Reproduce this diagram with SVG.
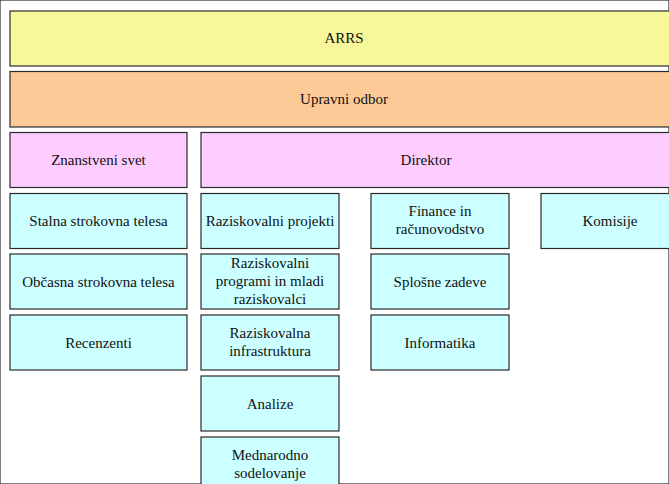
<svg xmlns="http://www.w3.org/2000/svg" width="669" height="484" viewBox="0 0 669 484">
<style>
rect{stroke:#2a2a2a;stroke-width:1.2}
.y{fill:#F8F89A}.o{fill:#FCCA96}.p{fill:#FFCCFF}.c{fill:#CCFFFF}
text{font-size:15px;fill:#111;text-anchor:middle}
</style>
<rect width="669" height="484" fill="#fff" stroke="none"/>
<g font-family="'Liberation Serif', 'DejaVu Serif', serif">
<g id="arrs"><rect class="y" x="10" y="11" width="670" height="55"/><text x="344" y="43">ARRS</text></g>
<g id="upravni"><rect class="o" x="10" y="71.5" width="670" height="55.5"/><text x="344" y="104">Upravni odbor</text></g>
<g id="znanstveni"><rect class="p" x="10" y="132.5" width="177" height="55"/><text x="98.5" y="165">Znanstveni svet</text></g>
<g id="direktor"><rect class="p" x="201" y="132.5" width="479" height="55"/><text x="426" y="165">Direktor</text></g>
<g id="stalna"><rect class="c" x="10" y="193.5" width="177" height="55"/><text x="98.5" y="226">Stalna strokovna telesa</text></g>
<g id="obcasna"><rect class="c" x="10" y="254" width="177" height="55"/><text x="98.5" y="286.5">Občasna strokovna telesa</text></g>
<g id="recenzenti"><rect class="c" x="10" y="315" width="177" height="55"/><text x="98.5" y="347.5">Recenzenti</text></g>
<g id="projekti"><rect class="c" x="201" y="193.5" width="138" height="55"/><text x="270" y="226">Raziskovalni projekti</text></g>
<g id="programi"><rect class="c" x="201" y="254" width="138" height="55"/><text x="270" y="268">Raziskovalni</text><text x="270" y="286">programi in mladi</text><text x="270" y="304">raziskovalci</text></g>
<g id="infrastruktura"><rect class="c" x="201" y="315" width="138" height="55"/><text x="270" y="338">Raziskovalna</text><text x="270" y="356">infrastruktura</text></g>
<g id="analize"><rect class="c" x="201" y="376" width="138" height="55"/><text x="270" y="408.5">Analize</text></g>
<g id="mednarodno"><rect class="c" x="201" y="437" width="138" height="55"/><text x="270" y="460">Mednarodno</text><text x="270" y="478">sodelovanje</text></g>
<g id="finance"><rect class="c" x="371" y="193.5" width="138" height="55"/><text x="440" y="216">Finance in</text><text x="440" y="234">računovodstvo</text></g>
<g id="splosne"><rect class="c" x="371" y="254" width="138" height="55"/><text x="440" y="286.5">Splošne zadeve</text></g>
<g id="informatika"><rect class="c" x="371" y="315" width="138" height="55"/><text x="440" y="347.5">Informatika</text></g>
<g id="komisije"><rect class="c" x="541" y="193.5" width="139" height="55"/><text x="610" y="226">Komisije</text></g>
</g>
<g id="connectors"></g>
</svg>
